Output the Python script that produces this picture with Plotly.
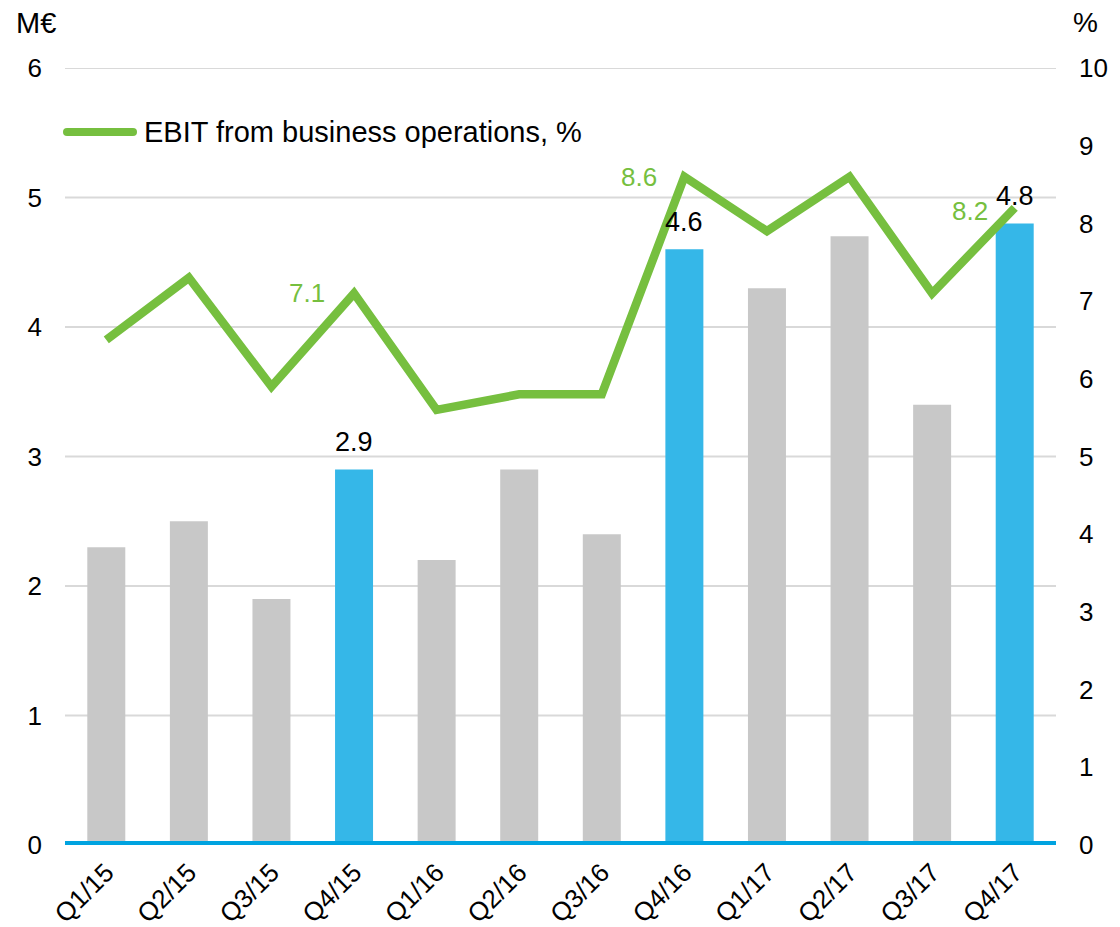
import plotly.graph_objects as go

categories = ["Q1/15", "Q2/15", "Q3/15", "Q4/15", "Q1/16", "Q2/16", "Q3/16", "Q4/16",
              "Q1/17", "Q2/17", "Q3/17", "Q4/17"]
ebit_meur = [2.3, 2.5, 1.9, 2.9, 2.2, 2.9, 2.4, 4.6, 4.3, 4.7, 3.4, 4.8]
ebit_pct = [6.5, 7.3, 5.9, 7.1, 5.6, 5.8, 5.8, 8.6, 7.9, 8.6, 7.1, 8.2]
highlight = [False, False, False, True, False, False, False, True, False, False, False, True]
pct_labels_idx = [3, 7, 11]
left_ticks = [0, 1, 2, 3, 4, 5, 6]
right_ticks = [0, 1, 2, 3, 4, 5, 6, 7, 8, 9, 10]

BLUE = "#35B7E8"
GRAY = "#C8C8C8"
GREEN = "#76BF3F"
FONT = "Liberation Sans, Arial, sans-serif"

# plot area in screen pixels (page body adds 8px offset)
PX0, PX1, PY0, PY1 = 65, 1056, 68, 845
def px(x):
    return (x - PX0) / (PX1 - PX0)
def py(y):
    return (PY1 - y) / (PY1 - PY0)

fig = go.Figure()
fig.add_trace(go.Bar(
    x=categories, y=ebit_meur,
    marker=dict(color=[BLUE if h else GRAY for h in highlight], line=dict(width=0)),
    showlegend=False, yaxis="y",
))
fig.add_trace(go.Scatter(
    x=categories, y=ebit_pct, mode="lines",
    line=dict(color=GREEN, width=8.5), yaxis="y2", showlegend=False,
))

# value labels on highlighted bars
for i, h in enumerate(highlight):
    if h:
        fig.add_annotation(x=categories[i], y=ebit_meur[i], xref="x", yref="y",
                           text=f"{ebit_meur[i]:.1f}", showarrow=False,
                           xanchor="center", yanchor="bottom", yshift=10,
                           font=dict(size=27, color="black", family=FONT))

# percentage labels
pct_label_shift = {3: (-27, 0), 7: (-25, 0), 11: (-25, -3)}
for i in pct_labels_idx:
    xs, ys = pct_label_shift[i]
    fig.add_annotation(x=categories[i], y=ebit_pct[i], xref="x", yref="y2",
                       text=f"{ebit_pct[i]:.1f}", showarrow=False,
                       xanchor="right", yanchor="middle", xshift=xs, yshift=ys,
                       font=dict(size=26, color=GREEN, family=FONT))

# gridlines
for t in left_ticks[1:]:
    fig.add_shape(type="line", xref="paper", yref="y", x0=0, x1=1, y0=t, y1=t,
                  line=dict(color="#D9D9D9", width=2), layer="below")
# baseline
fig.add_shape(type="line", xref="paper", yref="y", x0=0, x1=1, y0=0, y1=0,
              line=dict(color="#00A3E0", width=8), layer="above")

# manual legend
fig.add_shape(type="line", xref="paper", yref="paper", x0=px(67), x1=px(133),
              y0=py(132), y1=py(132),
              line=dict(color=GREEN, width=8))
fig.add_shape(type="circle", xref="paper", yref="paper",
              x0=px(63), x1=px(71), y0=py(136), y1=py(128),
              fillcolor=GREEN, line=dict(width=0))
fig.add_shape(type="circle", xref="paper", yref="paper",
              x0=px(129), x1=px(137), y0=py(136), y1=py(128),
              fillcolor=GREEN, line=dict(width=0))
fig.add_annotation(xref="paper", yref="paper", x=px(142), y=py(132),
                   text="EBIT from business operations, %", showarrow=False,
                   xanchor="left", yanchor="middle", font=dict(size=29, color="black", family=FONT))

# axis unit labels
fig.add_annotation(xref="paper", yref="paper", x=px(14), y=py(23),
                   text="M€", showarrow=False, xanchor="left", yanchor="middle",
                   font=dict(size=29, color="black", family=FONT))
fig.add_annotation(xref="paper", yref="paper", x=px(1071), y=py(23),
                   text="%", showarrow=False, xanchor="left", yanchor="middle",
                   font=dict(size=28, color="black", family=FONT))

fig.update_layout(
    width=1120, height=927,
    margin=dict(l=PX0 - 8, r=1120 - (PX1 - 8), t=PY0 - 8, b=927 - (PY1 - 8)),
    paper_bgcolor="white", plot_bgcolor="white",
    bargap=0.54,
    font=dict(family=FONT, size=25, color="black"),
    xaxis=dict(tickangle=-45, tickfont=dict(size=26), showgrid=False, showline=False,
               ticks="", ticklabelstandoff=6, automargin=False),
    yaxis=dict(range=[0, 6], tickvals=left_ticks, showgrid=False, zeroline=False,
               showline=False, ticks="", tickfont=dict(size=26), ticklabelstandoff=22,
               automargin=False),
    yaxis2=dict(range=[0, 10], tickvals=right_ticks, overlaying="y", side="right",
                showgrid=False, zeroline=False, showline=False, ticks="",
                tickfont=dict(size=26), ticklabelstandoff=22, automargin=False),
)

fig.write_html("out.html")
